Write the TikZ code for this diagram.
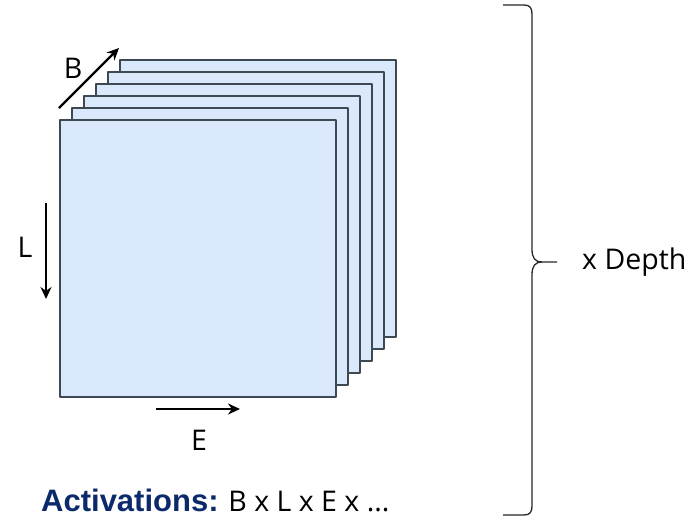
\documentclass[tikz,border=0pt]{standalone}
\usepackage{fontspec}
\usetikzlibrary{arrows.meta}
\setmainfont{Open Sans}
\newfontfamily\boldsans{Liberation Sans}
\definecolor{sheetfill}{HTML}{DAE8FC}
\definecolor{sheetline}{HTML}{3E4852}
\definecolor{actblue}{HTML}{0C2A6B}
\tikzset{
	sheet/.style={draw=sheetline, fill=sheetfill, line width=1.4pt},
	dimarrow/.style={->, line width=2.2pt},
	dimlabel/.style={inner sep=0pt, font=\fontsize{28.5}{34}\selectfont},
	brace/.style={draw=black!85, line width=1.3pt}
}
\begin{document}
\begin{tikzpicture}[x=1pt, y=-1pt, >={Stealth[length=12pt, width=11pt]}, line join=round]
				\useasboundingbox (0,0) rectangle (696,520);
				% stack of sheets, back to front
				\foreach \k in {5,4,...,0}
					\draw[sheet] (60+12*\k,120-12*\k) rectangle (336+12*\k,397-12*\k);
				% dimension arrows
				\coordinate (b0) at (59,108);
				\coordinate (b1) at (119,48);
				\coordinate (l0) at (46,203);
				\coordinate (l1) at (46,299);
				\coordinate (e0) at (156,409);
				\coordinate (e1) at (240,409);
				\draw[dimarrow] (b0) -- (b1);
				\draw[dimarrow] (l0) -- (l1);
				\draw[dimarrow] (e0) -- (e1);
				\node[dimlabel] (labB) at (73,68) {B};
				\node[dimlabel] (labL) at (25,247) {L};
				\node[dimlabel] (labE) at (199,440) {E};
				% brace
				\draw[brace] (503,5) -- (524,5) .. controls (530,5) and (532,8) .. (532,14)
					-- (532,249) .. controls (532,258) and (535,262) .. (542,262) -- (557,262);
				\draw[brace] (542,262) .. controls (535,262) and (532,266) .. (532,275)
					-- (532,506) .. controls (532,512) and (530,515) .. (524,515) -- (503,515);
				\node[dimlabel, anchor=west] (depth) at (582,262) {x Depth};
				% caption
				\node[dimlabel, anchor=west] (caption) at (41,500)
					{{\boldsans\bfseries\fontsize{31}{36}\selectfont\color{actblue}Activations:} B x L x E x ...};
			\end{tikzpicture}
\end{document}
